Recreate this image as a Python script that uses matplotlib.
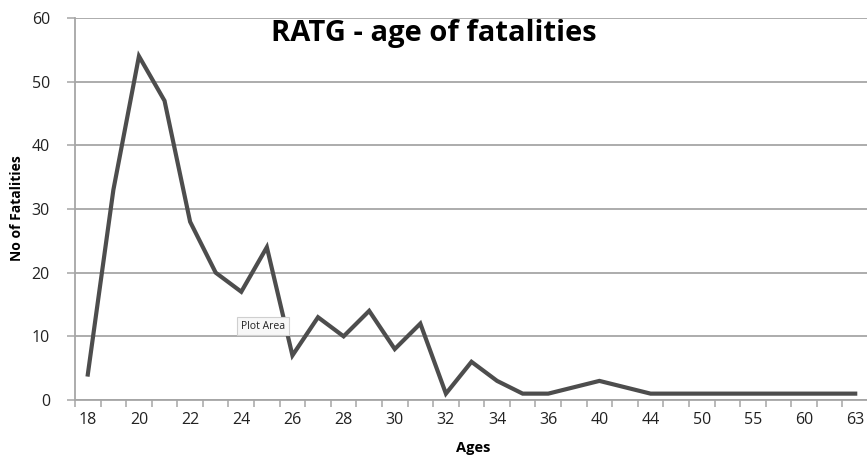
import numpy as np
import matplotlib.pyplot as plt

# ages that occur in the records (category axis) and fatality counts
ages = [18, 19, 20, 21, 22, 23, 24, 25, 26, 27, 28, 29, 30, 31, 32, 33, 34, 35, 36,
        38, 40, 42, 44, 47, 50, 52, 55, 58, 60, 62, 63]
fatalities = [4, 33, 54, 47, 28, 20, 17, 24, 7, 13, 10, 14, 8, 12, 1, 6, 3, 1, 1,
              2, 3, 2, 1, 1, 1, 1, 1, 1, 1, 1, 1]

plt.rcParams['font.family'] = ['Open Sans', 'DejaVu Sans']

fig = plt.figure(figsize=(8.67, 4.58), dpi=100)
ax = fig.add_axes([75 / 867, 58 / 458, 793 / 867, 382 / 458])

x = np.arange(len(ages))
ax.plot(x, fatalities, color='#4d4d4d', linewidth=3, solid_joinstyle='miter', zorder=3)

# axes and gridlines
ax.set_xlim(-0.5, len(ages) - 0.5)
ax.set_ylim(0, 60)
ax.set_yticks(range(0, 61, 10))
ax.yaxis.grid(True, color='#a6a6a6', linewidth=1.3)
ax.set_axisbelow(True)
for side in ['top', 'right']:
    ax.spines[side].set_visible(False)
for side in ['left', 'bottom']:
    ax.spines[side].set_color('#a6a6a6')
    ax.spines[side].set_linewidth(1.3)

ax.set_xticks(x[::2])
ax.set_xticklabels([str(a) for a in ages[::2]])
ax.set_xticks(np.arange(-0.5, len(ages), 1), minor=True)
ax.tick_params(axis='x', which='major', length=0, pad=9, labelsize=11.5, labelcolor='#222222')
ax.tick_params(axis='x', which='minor', length=5, width=1.1, color='#a6a6a6')
ax.tick_params(axis='y', length=6, width=1.1, color='#a6a6a6', pad=12,
               labelsize=11.5, labelcolor='#222222')

fig.text(473 / 867, 1 - 448 / 458, 'Ages', fontsize=10.5, fontweight='bold',
         ha='center', va='center')
fig.text(17 / 867, 1 - 208 / 458, 'No of Fatalities', rotation=90, fontsize=10,
         fontweight='bold', ha='center', va='center')

fig.text(434 / 867, 1 - 34 / 458, 'RATG - age of fatalities', fontsize=21,
         fontweight='bold', ha='center', va='center')

# hover tooltip
ax.text(0.237, 0.193, 'Plot Area', transform=ax.transAxes, fontsize=7.5,
        ha='center', va='center', color='#222222', zorder=5,
        bbox=dict(boxstyle='square,pad=0.35', facecolor='#f7f7f7', edgecolor='#cfcfcf',
                  linewidth=0.8))

fig.savefig('out.png', dpi=100)
